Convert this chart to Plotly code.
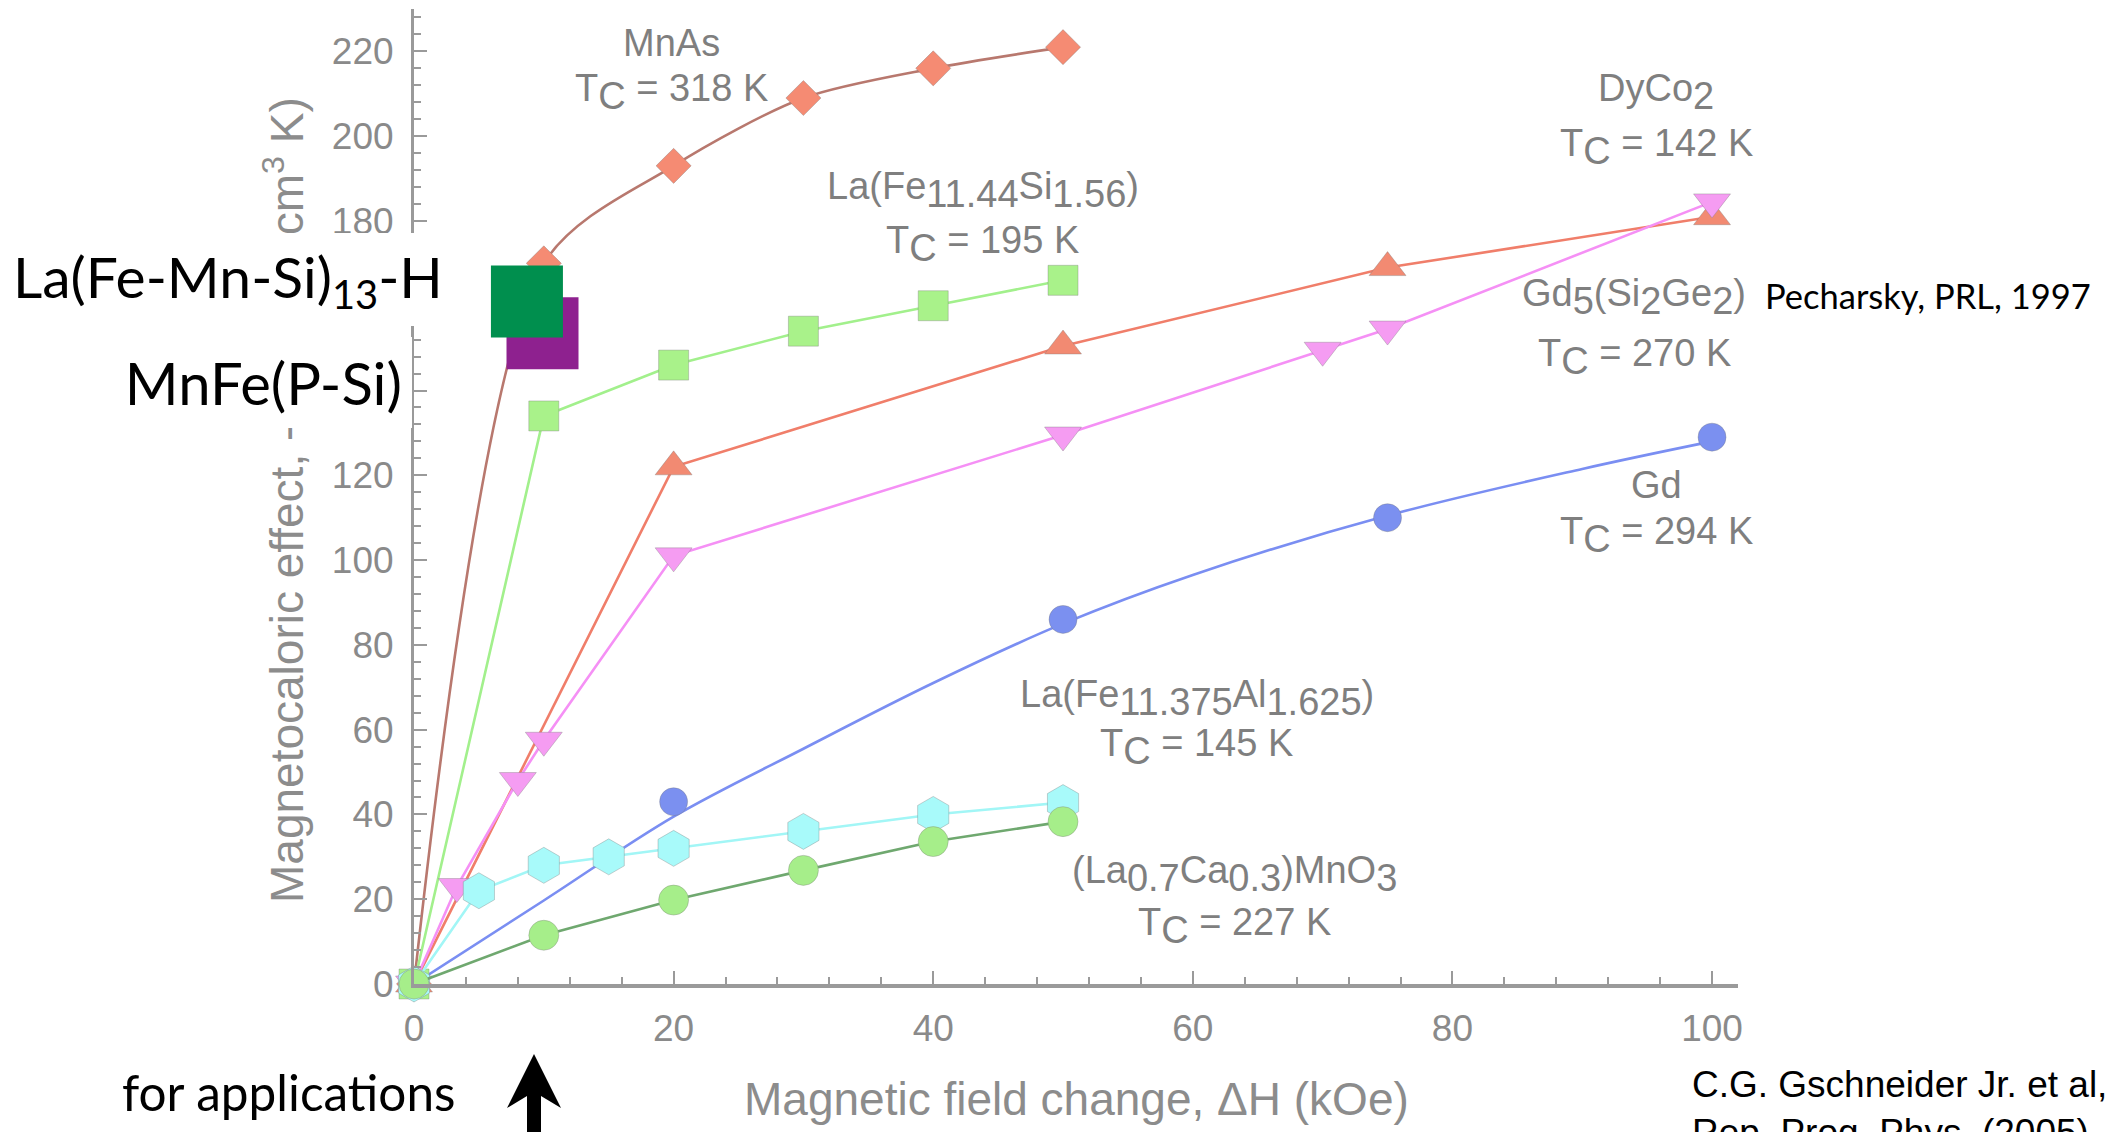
import plotly.graph_objects as go

# ---------------- data ----------------
mnas_x = [0, 10, 20, 30, 40, 50]
mnas_y = [0, 170, 193, 209, 216, 221]

lafesi_x = [0, 10, 20, 30, 40, 50]
lafesi_y = [0, 134, 146, 154, 160, 166]

dyco2_x = [0, 20, 50, 75, 100]
dyco2_y = [0, 122, 150.5, 169, 181]

gd5_x = [0, 3.3, 8, 10, 20, 50, 70, 75, 100]
gd5_y = [0, 23, 48, 57.5, 101, 129.5, 149.5, 154.5, 184.5]

gd_x = [0, 20, 50, 75, 100]
gd_y = [0, 43, 86, 110, 129]
gd_fit_x = [0, 10, 20, 30, 40, 50, 60, 75, 90, 100]
gd_fit_y = [0, 19.7, 39.5, 55.5, 71, 85, 96.5, 110.5, 121.5, 128]

lafeal_x = [0, 5, 10, 15, 20, 30, 40, 50]
lafeal_y = [0, 22, 28, 30, 32, 36, 40, 42.8]

lcmo_x = [0, 10, 20, 30, 40, 50]
lcmo_y = [0, 11.5, 19.8, 26.8, 33.6, 38.3]

new_mat_names = ["MnFe(P-Si)", "La(Fe-Mn-Si)13-H"]
new_mat_x = [9.9, 8.7]
new_mat_y = [153.5, 161.0]

x_ticks = [0, 20, 40, 60, 80, 100]
y_ticks = [0, 20, 40, 60, 80, 100, 120, 140, 160, 180, 200, 220]

# ---------------- layout geometry ----------------
# The page body has an 8px default margin, so the figure sits at (8, 8)
FIG_W, FIG_H = 2114, 1132
OFF = 8
ML, MT = 414 - OFF, 9 - OFF
PW, PH = 1324, 975
BOT = MT + PH


def pxx(p):  # window pixel x -> paper
    return (p - OFF - ML) / PW


def pxy(p):  # window pixel y -> paper
    return (BOT - (p - OFF)) / PH


GRAY_TXT = "#7f7f7f"
GRAY_AX = "#9a9a9a"
HELV = "Liberation Sans, Arial, Helvetica, sans-serif"
GILL = "Lato, Open Sans, sans-serif"
FS = 38


def sub(s):
    return f"<sub><span style='font-size:{FS}px'>{s}</span></sub>"


fig = go.Figure()


def add_series(x, y, line_color, fill, symbol, size, shape="linear", lw=2.6):
    fig.add_trace(go.Scatter(
        x=x, y=y, mode="lines+markers",
        line=dict(color=line_color, width=lw, shape=shape, smoothing=0.8),
        marker=dict(symbol=symbol, size=size, color=fill,
                    line=dict(color="rgba(120,120,120,0.35)", width=1)),
        cliponaxis=False, showlegend=False, hoverinfo="x+y",
    ))


# Gd fit line and markers
fig.add_trace(go.Scatter(x=gd_fit_x, y=gd_fit_y, mode="lines",
                         line=dict(color="#7a8ef2", width=2.6, shape="spline", smoothing=1.0),
                         cliponaxis=False, showlegend=False))
fig.add_trace(go.Scatter(x=gd_x, y=gd_y, mode="markers",
                         marker=dict(symbol="circle", size=28, color="#7b90f0",
                                     line=dict(color="rgba(120,120,120,0.35)", width=1)),
                         cliponaxis=False, showlegend=False))

add_series(mnas_x, mnas_y, "#b8786e", "#f58b73", "diamond", 27, shape="spline")
add_series(lafesi_x, lafesi_y, "#a2f08c", "#a9f28a", "square", 30)
add_series(dyco2_x, dyco2_y, "#f07e6a", "#f28a72", "triangle-up", 32)
add_series(gd5_x, gd5_y, "#f590f5", "#f59cf2", "triangle-down", 32)
add_series(lafeal_x, lafeal_y, "#a2f6f6", "#a8fafa", "hexagon", 36)
add_series(lcmo_x, lcmo_y, "#6fa86f", "#a6ee8a", "circle", 30)

# new materials (large squares)
fig.add_trace(go.Scatter(x=new_mat_x, y=new_mat_y, mode="markers",
                         marker=dict(symbol="square", size=72,
                                     color=["#8e218f", "#008f4e"], line=dict(width=0)),
                         text=new_mat_names, hoverinfo="text",
                         cliponaxis=False, showlegend=False))

# ---------------- annotations ----------------
ann = []


def gtxt(x, y, t):
    ann.append(dict(x=x, y=y, xref="x", yref="y", text=t, showarrow=False,
                    font=dict(family=HELV, size=FS, color=GRAY_TXT),
                    xanchor="center", yanchor="middle"))


Tc = "T" + sub("C")
gtxt(19.8, 222, "MnAs")
gtxt(19.8, 210.5, Tc + " = 318 K")
gtxt(43.8, 187.3, "La(Fe" + sub("11.44") + "Si" + sub("1.56") + ")")
gtxt(43.8, 174.5, Tc + " = 195 K")
gtxt(95.7, 210.5, "DyCo" + sub("2"))
gtxt(95.7, 197.5, Tc + " = 142 K")
gtxt(94.0, 162.0, "Gd" + sub("5") + "(Si" + sub("2") + "Ge" + sub("2") + ")")
gtxt(94.0, 148.0, Tc + " = 270 K")
gtxt(95.7, 117.7, "Gd")
gtxt(95.7, 106.0, Tc + " = 294 K")
gtxt(60.3, 67.5, "La(Fe" + sub("11.375") + "Al" + sub("1.625") + ")")
gtxt(60.3, 56.0, Tc + " = 145 K")
gtxt(63.2, 26.0, "(La" + sub("0.7") + "Ca" + sub("0.3") + ")MnO" + sub("3"))
gtxt(63.2, 13.8, Tc + " = 227 K")

# axis titles
ann.append(dict(x=pxx(1076), y=pxy(1099), xref="paper", yref="paper",
                text="Magnetic field change, ΔH (kOe)", showarrow=False,
                font=dict(family=HELV, size=46, color="#8c8c8c"),
                xanchor="center", yanchor="middle"))
ann.append(dict(x=pxx(287), y=pxy(500), xref="paper", yref="paper",
                text="Magnetocaloric effect, -ΔS<sub>M</sub> (mJ/cm<sup>3</sup> K)",
                showarrow=False, textangle=-90,
                font=dict(family=HELV, size=46, color="#8c8c8c"),
                xanchor="center", yanchor="middle"))

# black labels on white boxes (drawn above the axis title)
ann.append(dict(x=pxx(7), y=pxy(279.5), xref="paper", yref="paper",
                text="La(Fe-Mn-Si)<sub>13</sub>-H", showarrow=False,
                font=dict(family=GILL, size=57, color="black"),
                bgcolor="white", borderpad=6, borderwidth=0,
                width=444, height=81, align="left",
                xanchor="left", yanchor="middle"))
ann.append(dict(x=pxx(412), y=pxy(382.5), xref="paper", yref="paper",
                text="MnFe(P-Si)", showarrow=False,
                font=dict(family=GILL, size=58, color="black"),
                bgcolor="white", borderpad=10, borderwidth=0,
                width=292, height=71, align="right",
                xanchor="right", yanchor="middle"))
ann.append(dict(x=pxx(1763), y=pxy(295), xref="paper", yref="paper",
                text="Pecharsky, PRL, 1997", showarrow=False,
                font=dict(family=GILL, size=34.5, color="black"),
                xanchor="left", yanchor="middle"))
ann.append(dict(x=pxx(120), y=pxy(1092), xref="paper", yref="paper",
                text="for applications", showarrow=False,
                font=dict(family=GILL, size=49.5, color="black"),
                xanchor="left", yanchor="middle"))
ann.append(dict(x=pxx(1690), y=pxy(1062), xref="paper", yref="paper",
                text="C.G. Gschneider Jr. et al,<br>Rep. Prog. Phys. (2005)",
                showarrow=False, align="left",
                font=dict(family=HELV, size=37, color="black"),
                xanchor="left", yanchor="top"))

# ---------------- shapes ----------------
shapes = []
# arrow "for applications"
ax_, tip, barb, notch, hw, sw = 534, 1054, 1108, 1096, 27, 7
path = (f"M {pxx(ax_)},{pxy(tip)} L {pxx(ax_ + hw)},{pxy(barb)} L {pxx(ax_ + sw)},{pxy(notch)} "
        f"L {pxx(ax_ + sw)},{pxy(1145)} L {pxx(ax_ - sw)},{pxy(1145)} L {pxx(ax_ - sw)},{pxy(notch)} "
        f"L {pxx(ax_ - hw)},{pxy(barb)} Z")
shapes.append(dict(type="path", xref="paper", yref="paper", path=path,
                   fillcolor="black", line=dict(width=0), layer="above"))

axis_common = dict(
    showgrid=False, zeroline=False, showline=True, linecolor=GRAY_AX,
    ticks="inside", tickcolor=GRAY_AX, ticklen=13, tickwidth=2,
    tickfont=dict(family=HELV, size=37, color="#8a8a8a"),
    minor=dict(ticks="inside", ticklen=7, tickwidth=1.5, tickcolor=GRAY_AX, dtick=4),
    automargin=False, fixedrange=True,
)

fig.update_layout(
    width=FIG_W, height=FIG_H,
    margin=dict(l=ML, r=FIG_W - ML - PW, t=MT, b=FIG_H - BOT, pad=0),
    paper_bgcolor="white", plot_bgcolor="white",
    xaxis=dict(range=[0, 102], tickmode="array", tickvals=x_ticks,
               ticktext=[str(v) for v in x_ticks], linewidth=4,
               ticklabelstandoff=9, **axis_common),
    yaxis=dict(range=[0, 230], tickmode="array", tickvals=y_ticks,
               ticktext=[str(v) for v in y_ticks], linewidth=3,
               ticklabelstandoff=10, **axis_common),
    annotations=ann, shapes=shapes, showlegend=False,
)

fig.write_html("out.html")
